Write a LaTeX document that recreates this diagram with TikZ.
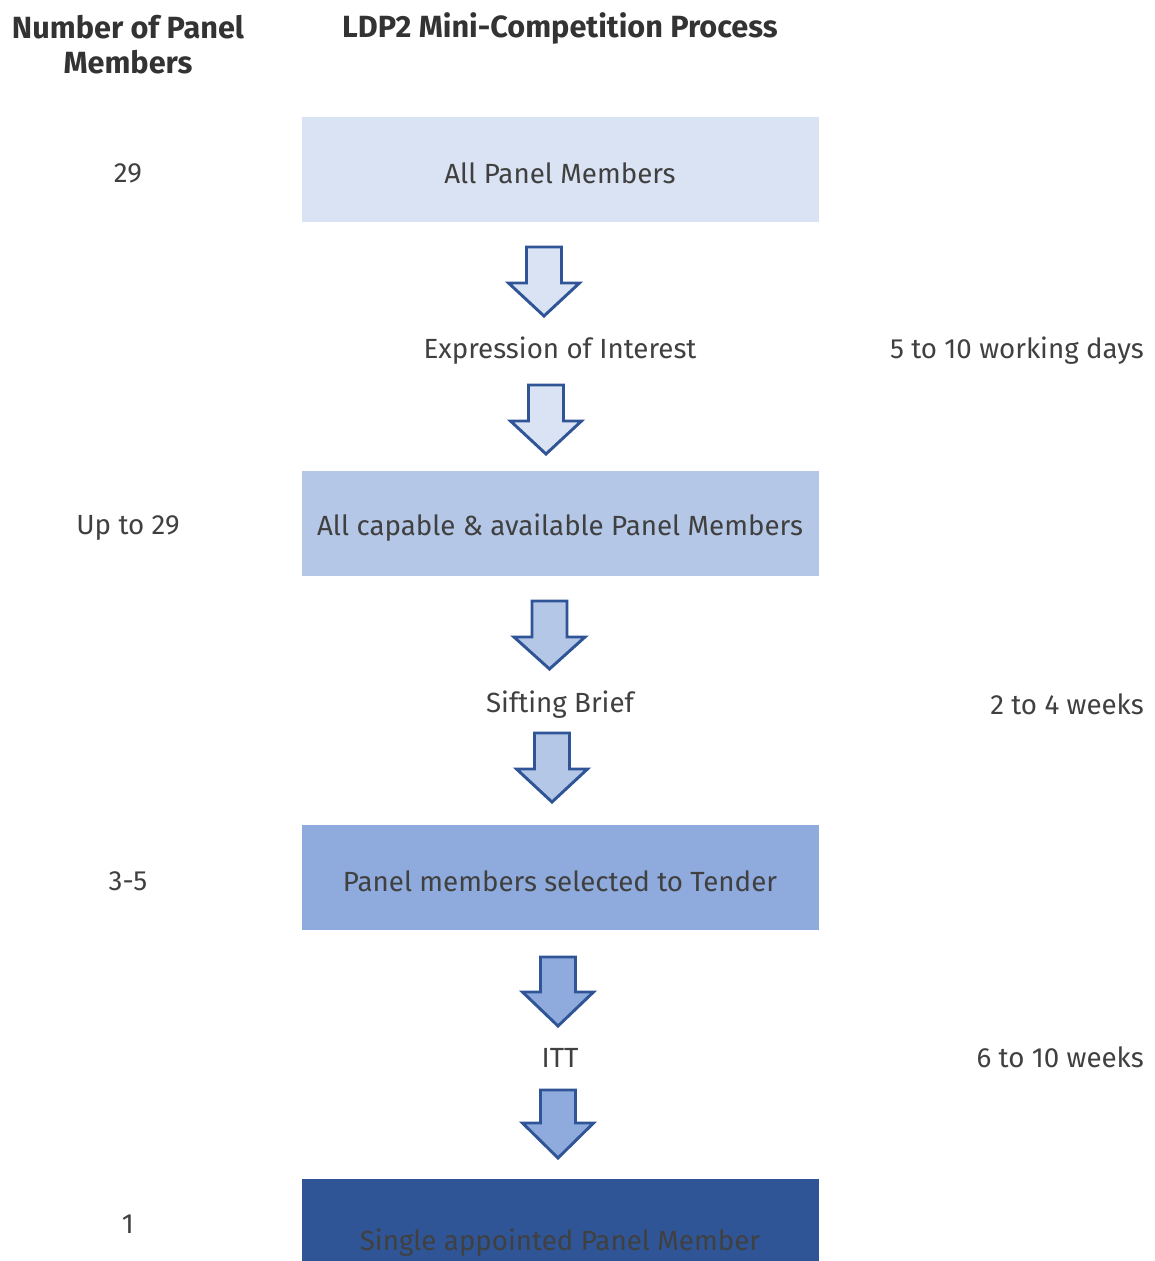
\documentclass[tikz,border=0pt]{standalone}
\usepackage{fontspec}
\setmainfont{Fira Sans}
\definecolor{txt}{HTML}{404040}
\definecolor{hdr}{HTML}{333333}
\definecolor{f1}{HTML}{DAE3F3}
\definecolor{f2}{HTML}{B4C7E7}
\definecolor{f3}{HTML}{8FAADC}
\definecolor{f4}{HTML}{2F5597}
\definecolor{edge}{HTML}{2F5597}
\tikzset{
  body/.style={text=txt,font=\fontsize{20.8}{24}\selectfont,inner sep=0pt,anchor=center,yshift=-1.9pt},
  head/.style={text=hdr,font=\bfseries\fontsize{23}{26.3}\selectfont,inner sep=0pt,align=center},
  stage/.style={draw=none,minimum width=517*0.75pt,minimum height=105*0.75pt,inner sep=0pt},
  darrowstyle/.style={draw=edge,line width=2.2pt,line join=miter}
}
% #1 centre x, #2 top y, #3 fill, #4 shaft height, #5 head height
\newcommand{\downarrowshape}[5]{%
  \draw[darrowstyle,fill=#3] (#1-17.5,#2) -- (#1+17.5,#2) -- (#1+17.5,#2+#4) -- (#1+35.5,#2+#4)
   -- (#1,#2+#4+#5) -- (#1-35.5,#2+#4) -- (#1-17.5,#2+#4) -- cycle;}
\begin{document}
\begin{tikzpicture}[x=0.75pt,y=-0.75pt]
\useasboundingbox (0,0) rectangle (1154,1261);
\node[head] (h1) at (128,45) {Number of Panel\\Members};
\node[head] (h2) at (560,28) {LDP2 Mini-Competition Process};

\node[stage,fill=f1] (b1) at (560.5,169.5) {};
\node[stage,fill=f2] (b2) at (560.5,523) {};
\node[stage,fill=f3] (b3) at (560.5,877.5) {};
\fill[f4] (302,1179) rectangle (819,1261);
\node[body] (l1) at (560,171) {All Panel Members};
\node[body] (l2) at (560,525) {All capable \& available Panel Members};
\node[body] (l3) at (560,879) {Panel members selected to Tender};
\node[body] (l4) at (560,1240) {Single appointed Panel Member};

\downarrowshape{544}{247}{f1}{36}{33}
\downarrowshape{546}{385}{f1}{36}{33}
\downarrowshape{549.5}{601}{f2}{36}{32}
\downarrowshape{552}{733}{f2}{36}{33}
\downarrowshape{558}{957}{f3}{35}{34}
\downarrowshape{558}{1090}{f3}{33}{35}

\node[body] (s1) at (560,348) {Expression of Interest};
\node[body] (s2) at (560,702) {Sifting Brief};
\node[body] (s3) at (560,1055) {ITT};

\node[body,anchor=east] (t1) at (1144,348) {5 to 10 working days};
\node[body,anchor=east] (t2) at (1144,702) {2 to 4 weeks};
\node[body,anchor=east] (t3) at (1144,1055) {6 to 10 weeks};

\node[body] (n1) at (128,171) {29};
\node[body] (n2) at (128,525) {Up to 29};
\node[body] (n3) at (128,879) {3-5};
\node[body] (n4) at (128,1222) {1};
\end{tikzpicture}
\end{document}
